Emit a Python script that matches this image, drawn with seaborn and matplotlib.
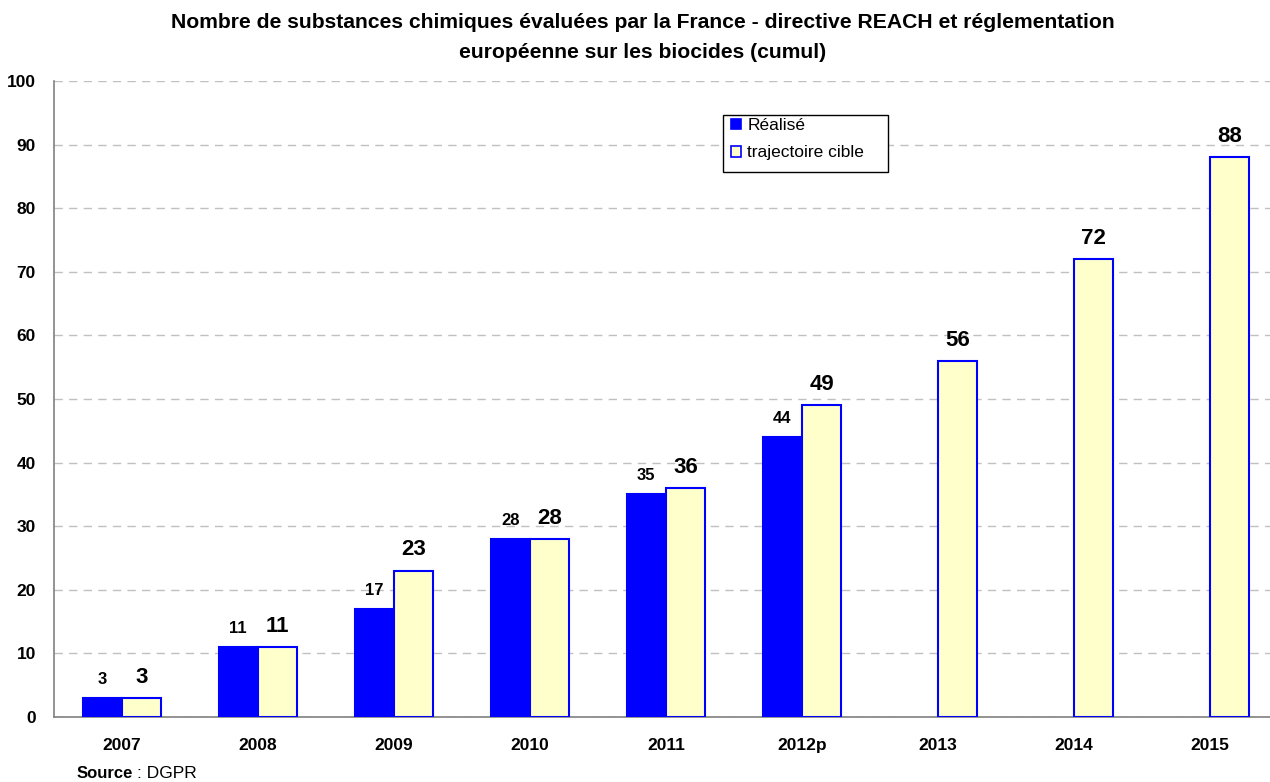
import numpy as np
import pandas as pd
import matplotlib
matplotlib.use("Agg")
import matplotlib.pyplot as plt
from matplotlib.patches import Patch, Rectangle
from matplotlib.ticker import FixedLocator
import seaborn as sns

years = ['2007', '2008', '2009', '2010', '2011', '2012p', '2013', '2014', '2015']
realise = [3, 11, 17, 28, 35, 44, np.nan, np.nan, np.nan]
cible = [3, 11, 23, 28, 36, 49, 56, 72, 88]
series = ['Réalisé', 'trajectoire cible']

df = pd.DataFrame({
    'annee': years * 2,
    'serie': [series[0]] * len(years) + [series[1]] * len(years),
    'valeur': realise + cible,
})

sns.set_style('white')
plt.rcParams['font.family'] = ['Liberation Sans', 'DejaVu Sans']
plt.rcParams['text.color'] = 'black'
plt.rcParams['xtick.labelcolor'] = 'black'
plt.rcParams['ytick.labelcolor'] = 'black'

W, H = 1270, 782
fig = plt.figure(figsize=(W / 100, H / 100), dpi=100)
ax = fig.add_axes([54 / W, 65 / H, 1224 / W, 636 / H])

blue = '#0000FF'
cream = '#FFFFCC'
sns.barplot(data=df, x='annee', y='valeur', hue='serie', order=years,
            hue_order=series, palette=[blue, cream], width=0.58,
            edgecolor=blue, linewidth=1.5, saturation=1, legend=False, ax=ax,
            zorder=3)

ax.set_ylim(0, 100)
ax.set_xlim(-0.5, len(years) - 0.5)
ax.set_yticks(range(0, 101, 10))
ax.yaxis.grid(True, color='#C0C0C0', linestyle=(0, (6, 4.5)), linewidth=1, zorder=0)
ax.xaxis.grid(False)
ax.set_axisbelow(True)

for side in ['top', 'right']:
    ax.spines[side].set_visible(False)
for side in ['left', 'bottom']:
    ax.spines[side].set_color('#808080')
    ax.spines[side].set_linewidth(1.2)

ax.tick_params(axis='y', length=5, width=1.2, color='#808080', pad=8, labelsize=12.5)
ax.tick_params(axis='x', which='major', length=0, pad=15, labelsize=12.5)
ax.xaxis.set_minor_locator(FixedLocator(np.arange(0.5, len(years) - 0.5, 1)))
ax.tick_params(axis='x', which='minor', length=4, width=1.2, color='#808080')
for lab in ax.get_xticklabels() + ax.get_yticklabels():
    lab.set_fontweight('bold')
ax.set_xlabel('')
ax.set_ylabel('')

# value labels
for cont, size, off in zip(ax.containers, [12, 16], [13.5, 15]):
    for bar in cont:
        h = bar.get_height()
        if np.isnan(h):
            continue
        ax.annotate(f'{int(h)}', (bar.get_x() + bar.get_width() / 2, h),
                    xytext=(0, off), textcoords='offset points',
                    ha='center', va='center', fontsize=size, fontweight='bold')

# legend, with a hand-placed box like the original
handles = [Patch(facecolor=blue, edgecolor=blue, linewidth=1.2),
           Patch(facecolor=cream, edgecolor=blue, linewidth=1.2)]
leg = fig.legend(handles, series, loc='upper left',
                 bbox_to_anchor=(731 / W, 1 - 118 / H),
                 fontsize=12.5, frameon=False, handlelength=0.55,
                 handleheight=0.55, handletextpad=0.4, borderpad=0,
                 labelspacing=0.72, borderaxespad=0)
fig.patches.append(Rectangle((723 / W, 1 - 172 / H), 165 / W, 57 / H,
                             transform=fig.transFigure, facecolor='white',
                             edgecolor='black', linewidth=1, zorder=0))

fig.text(643 / W, 1 - 37.5 / H, 'Nombre de substances chimiques évaluées par la France - directive REACH et réglementation\neuropéenne sur les biocides (cumul)',
         ha='center', va='center', fontsize=15.2, fontweight='bold', linespacing=1.7)

fig.text(77 / W, 1 - 773 / H, 'Source', ha='left', va='center', fontsize=12, fontweight='bold')
fig.text(137 / W, 1 - 773 / H, ': DGPR', ha='left', va='center', fontsize=12.5)

fig.savefig('out.png', dpi=100)
